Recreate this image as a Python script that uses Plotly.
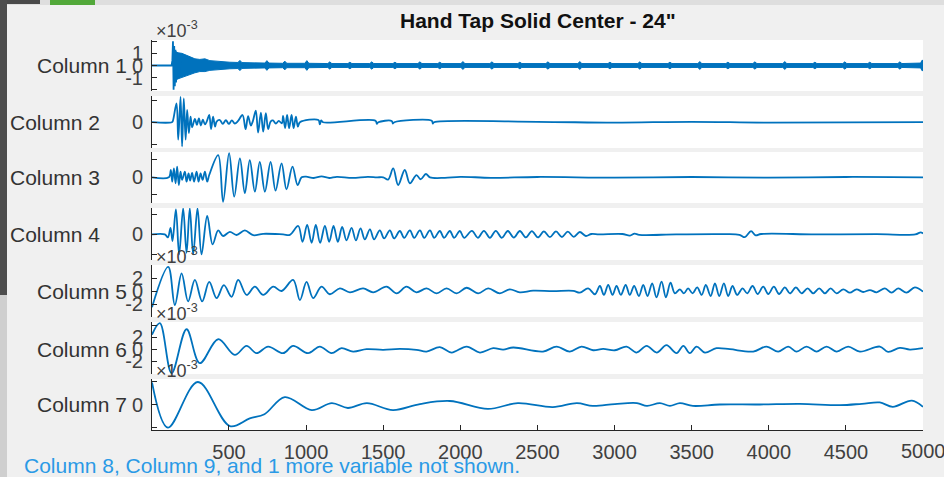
import plotly.graph_objects as go

# ---------------- data (row index vs. value) ----------------
x_tick_vals = [500, 1000, 1500, 2000, 2500, 3000, 3500, 4000, 4500, 5000]
x_tick_text = ["500", "1000", "1500", "2000", "2500", "3000", "3500", "4000", "4500", "5000"]
column_names = ["Column 1", "Column 2", "Column 3", "Column 4", "Column 5", "Column 6", "Column 7"]

# Column 1 (x10^-3): initial impact spike + dense noise band (upper/lower envelope)
col1_x = [1, 128, 133, 137, 141, 145, 149, 153, 157, 161, 166, 171, 177, 183, 190, 5000]
col1_y = [0, 0, 0.4, 2.0, -2.0, 1.6, -1.7, 1.3, -1.4, 1.1, -1.1, 0.9, -0.9, 0.6, 0, 0]
col1_band_x = [149, 169, 195, 220, 246, 279, 311, 344, 376, 441, 506, 558, 571, 584, 668, 733, 746, 759,
               849, 862, 875, 992, 1005, 1018, 1141, 1154, 1167, 1271, 1284, 1297, 1413, 1426, 1439,
               1563, 1576, 1589, 1725, 1738, 1751, 1854, 1867, 1880, 2004, 2017, 2030, 2192, 2205, 2218,
               2373, 2386, 2399, 2555, 2568, 2581, 2762, 2775, 2788, 2957, 2970, 2983, 3151, 3164, 3177,
               3346, 3359, 3372, 3540, 3553, 3566, 3722, 3735, 3748, 3897, 3910, 3923, 4091, 4104, 4117,
               4286, 4299, 4312, 4480, 4493, 4506, 4642, 4655, 4668, 4837, 4850, 4863, 4985, 4993, 5000]
col1_band_hi = [1.2, 1.05, 1.0, 0.85, 0.7, 0.55, 0.5, 0.55, 0.4, 0.32, 0.27, 0.25, 0.42, 0.24, 0.22, 0.2, 0.4, 0.2,
                0.18, 0.36, 0.18, 0.18, 0.4, 0.18, 0.16, 0.3, 0.16, 0.16, 0.27, 0.16, 0.16, 0.3, 0.16,
                0.16, 0.27, 0.16, 0.16, 0.3, 0.16, 0.16, 0.27, 0.16, 0.16, 0.32, 0.16, 0.16, 0.3, 0.16,
                0.16, 0.27, 0.16, 0.16, 0.3, 0.16, 0.16, 0.32, 0.16, 0.16, 0.27, 0.16, 0.16, 0.3, 0.16,
                0.16, 0.27, 0.16, 0.16, 0.32, 0.16, 0.16, 0.27, 0.16, 0.16, 0.3, 0.16, 0.16, 0.32, 0.16,
                0.16, 0.27, 0.16, 0.16, 0.3, 0.16, 0.16, 0.27, 0.16, 0.16, 0.3, 0.16, 0.2, 0.42, 0.42]
col1_band_lo = [-1.3, -1.1, -1.0, -0.9, -0.75, -0.6, -0.5, -0.5, -0.4, -0.32, -0.27, -0.25, -0.42, -0.24, -0.22, -0.2, -0.4, -0.2,
                -0.18, -0.36, -0.18, -0.18, -0.4, -0.18, -0.16, -0.3, -0.16, -0.16, -0.27, -0.16, -0.16, -0.3, -0.16,
                -0.16, -0.27, -0.16, -0.16, -0.3, -0.16, -0.16, -0.27, -0.16, -0.16, -0.32, -0.16, -0.16, -0.3, -0.16,
                -0.16, -0.27, -0.16, -0.16, -0.3, -0.16, -0.16, -0.32, -0.16, -0.16, -0.27, -0.16, -0.16, -0.3, -0.16,
                -0.16, -0.27, -0.16, -0.16, -0.32, -0.16, -0.16, -0.27, -0.16, -0.16, -0.3, -0.16, -0.16, -0.32, -0.16,
                -0.16, -0.27, -0.16, -0.16, -0.3, -0.16, -0.16, -0.27, -0.16, -0.16, -0.3, -0.16, -0.2, -0.42, -0.42]

col2_x = [1, 130, 136, 160, 171, 186, 196, 207, 219, 229, 240, 251, 261, 279, 292, 305, 318, 331, 344, 357,
          372, 384, 397, 410, 420, 441, 460, 480, 499, 519, 538, 558, 588, 608, 624, 642, 655, 674, 689, 707,
          722, 739, 754, 770, 785, 804, 823, 843, 851, 864, 877, 890, 906, 919, 934, 947, 960,
          1080, 1089, 1098, 1110, 1450, 1459, 1468, 1555, 1563, 1572, 1815, 1822, 1830,
          2500, 3000, 3500, 4000, 5000]
col2_y = [0, 0, 0.05, 0.86, -0.80, 1.16, -1.11, 1.09, -0.80, 0.56, -0.5, 0.25, -0.23, 0.15, -0.12, 0.18, -0.15, 0.12, -0.1, 0.05,
          0.33, -0.32, 0.25, -0.2, 0.03, 0.1, -0.08, 0.1, -0.08, 0.08, -0.06, 0.05, 0.33, -0.32, 0.28, -0.15, 0.05, 0.53, -0.47, 0.44,
          -0.43, 0.41, -0.32, 0.03, 0.08, -0.06, 0.06, -0.05, 0.29, -0.27, 0.33, -0.27, 0.33, -0.27, 0.25, -0.2, 0,
          0.1, -0.1, 0.08, 0, 0.07, -0.07, 0, 0.06, -0.06, 0, 0.07, -0.06, 0,
          0.02, -0.02, 0.02, -0.02, 0]

col3_x = [1, 110, 123, 132, 143, 154, 164, 175, 186, 196, 214, 225, 238, 248, 261, 274, 290, 303, 316, 329, 344, 359, 372,
          430, 462, 501, 534, 571, 603, 635, 668, 700, 733, 770, 802, 841, 873, 912, 945, 971,
          1000, 1050, 1100, 1150, 1200, 1300, 1400, 1459, 1500, 1532, 1565, 1597, 1640, 1673, 1716, 1742, 1777, 1803,
          1900, 2000, 2200, 2500, 3000, 3500, 4000, 4500, 5000]
col3_y = [0, 0, 0.42, -0.25, 0.51, -0.34, 0.61, -0.44, 0.32, -0.15, 0.32, -0.25, 0.23, -0.19, 0.26, -0.25, 0.32, -0.25, 0.23, -0.15, 0.32, -0.25, 0.13,
          1.27, -1.4, 1.38, -1.11, 1.09, -0.91, 0.99, -0.82, 0.89, -0.82, 0.89, -0.76, 0.80, -0.69, 0.61, -0.44, 0,
          0.04, -0.04, 0.05, -0.04, 0.03, -0.03, 0.03, 0, 0, -0.13, 0.51, -0.44, 0.42, -0.34, 0.13, -0.11, 0.19, 0,
          -0.03, 0.03, -0.03, 0.02, -0.02, 0.02, -0.02, 0.02, 0]

col4_x = [1, 84, 104, 121, 134, 156, 177, 203, 225, 246, 268, 296, 322, 359, 394, 430, 462, 506, 549, 603, 657, 722, 851, 895,
          949, 977, 1007, 1036, 1063, 1091, 1122, 1150, 1178, 1206, 1234, 1262, 1295, 1323, 1353, 1381, 1414, 1441,
          1478, 1506, 1543, 1571, 1608, 1636, 1673, 1701, 1738, 1766, 1803, 1831, 1867, 1895, 1932, 1960, 1997, 2025,
          2075, 2114, 2153, 2192, 2230, 2269, 2308, 2347, 2386, 2425, 2464, 2503, 2542, 2581, 2620, 2659, 2697, 2736,
          2775, 2814, 2850, 2900, 3050, 3100, 3130, 3160, 3400, 3700, 3810, 3845, 3885, 3915, 3950, 4300, 4700, 4950,
          4985, 5000]
col4_y = [0, 0, -0.15, 0.33, -0.33, 1.25, -1.0, 1.3, -0.92, 1.3, -1.0, 1.3, -1.0, 0.92, -0.5, 0.2, -0.08, 0.13, -0.03, 0.2, -0.04, 0.03, 0, -0.02,
          0.42, -0.37, 0.47, -0.42, 0.47, -0.42, 0.42, -0.37, 0.42, -0.37, 0.37, -0.3, 0.33, -0.3, 0.3, -0.25, 0.25, -0.25,
          0.2, -0.2, 0.2, -0.2, 0.17, -0.17, 0.2, -0.17, 0.2, -0.17, 0.2, -0.17, 0.17, -0.17, 0.17, -0.17, 0.17, -0.17,
          0.18, -0.17, 0.18, -0.17, 0.18, -0.17, 0.17, -0.16, 0.17, -0.15, 0.16, -0.15, 0.15, -0.14, 0.15, -0.13, 0.14, -0.12,
          0.12, -0.08, 0.02, 0, 0.02, -0.06, 0.04, -0.02, 0, 0.01, -0.02, -0.14, 0.16, -0.05, 0.02, 0, 0.01, 0,
          0.1, 0.05]

col5_x = [1, 106, 149, 193, 235, 279, 326, 372, 420, 467, 517, 560, 614, 668, 722, 787, 841, 916, 960, 1003, 1046, 1100,
          1154, 1219, 1284, 1370, 1435, 1522, 1587, 1651, 1716, 1781, 1846, 1911, 1976, 2041, 2116, 2181, 2256, 2321,
          2386, 2472, 2600, 2732, 2775, 2829, 2873, 2905, 2931, 2959, 2987, 3013, 3041, 3072, 3099, 3127, 3158, 3186,
          3214, 3244, 3272, 3305, 3333, 3363, 3391, 3424, 3450, 3477, 3506, 3536, 3565, 3592, 3623, 3651, 3679, 3709,
          3737, 3765, 3795, 3830, 3860, 3895, 3928, 3964, 3997, 4033, 4067, 4104, 4137, 4176, 4213, 4252, 4288, 4327,
          4364, 4401, 4440, 4483, 4526, 4569, 4612, 4656, 4699, 4753, 4796, 4839, 4893, 4947, 5000]
col5_y = [-2.5, 3.7, -2.15, 2.7, -1.6, 1.7, -1.6, 1.4, -1.1, 0.9, -0.9, 1.7, -0.6, 0.67, -0.6, 0.67, 0, 1.7, -1.4, 1.4, -1.1, 0.67,
          -0.5, 0.4, -0.2, 0.4, -0.2, 0.67, -0.36, 0.67, -0.2, 0.4, -0.36, 0.4, -0.36, 0.5, -0.36, 0.4, -0.36, 0.26,
          -0.2, 0.05, -0.02, 0.02, -0.26, 0.4, -0.5, 0.77, -0.6, 0.92, -0.6, 0.77, -0.6, 0.92, -0.6, 0.77, -0.77, 0.92,
          -0.77, 1.18, -0.97, 1.43, -0.97, 1.28, -0.36, 0.26, -0.36, 0.4, -0.36, 0.56, -0.6, 0.92, -0.77, 1.18, -0.77, 1.18,
          -0.77, 0.77, -0.6, 0.4, -0.36, 0.77, -0.46, 0.67, -0.46, 0.67, -0.46, 0.56, -0.36, 0.56, -0.36, 0.4, -0.36, 0.4,
          -0.36, 0.4, -0.36, 0.26, -0.26, 0.26, -0.15, 0.15, -0.2, 0.4, -0.26, 0.4, -0.26, 0.56, -0.1]

col6_x = [1, 52, 128, 225, 311, 430, 538, 614, 679, 754, 851, 916, 1013, 1089, 1165, 1230, 1305, 1392, 1500, 1608, 1716,
          1781, 1867, 1943, 2041, 2127, 2213, 2278, 2343, 2536, 2624, 2710, 2786, 2861, 2926, 3002, 3078, 3143, 3208,
          3273, 3337, 3402, 3446, 3488, 3532, 3586, 3661, 3748, 3899, 3986, 4061, 4126, 4180, 4245, 4310, 4375, 4440,
          4515, 4591, 4720, 4774, 4850, 4915, 5000]
col6_y = [2.4, 4.3, -3.97, 3.3, -2.3, 1.65, -0.94, 0.55, -0.66, 0.44, -0.66, 0.55, -0.66, 0.44, -0.66, 0.17, -0.39, 0, -0.1, 0.05, -0.1,
          -0.39, 0.33, -0.55, 0.44, -0.55, 0.17, -0.06, 0.28, -0.39, 0.44, -0.39, 0.44, -0.17, 0.05, -0.17, 0.44, -0.55, 0.55,
          -0.55, 0.66, -0.66, 0.55, -0.66, 0.44, -0.55, 0.17, 0, -0.39, 0.44, -0.39, 0.44, -0.39, 0.44, -0.39, 0.44, -0.39,
          0.44, -0.39, 0.44, -0.44, 0.22, -0.06, 0.17]

col7_x = [1, 104, 298, 506, 635, 730, 862, 1037, 1167, 1271, 1394, 1563, 1738, 1932, 2179, 2373, 2600, 2756, 2859, 3002,
          3145, 3210, 3294, 3359, 3424, 3508, 3683, 3942, 4202, 4461, 4604, 4720, 4804, 4928, 5000]
col7_y = [0.95, -1.0, 0.97, -0.93, -0.6, -0.42, 0.32, -0.24, 0.06, -0.15, 0.06, -0.24, 0.02, 0.15, -0.19, 0.06, -0.11, 0.06, -0.06, 0.02,
          0.06, -0.06, 0.06, -0.06, 0.06, -0.06, 0.0, 0.0, 0.03, -0.03, 0.03, 0.09, -0.1, 0.17, -0.1]

# ---------------- layout geometry / styles ----------------
W, H = 944, 477
X_LEFT, X_RIGHT = 152, 923
panels_px = [(40, 91), (96, 148), (152, 203), (208, 260), (265, 317), (322, 374), (379, 430)]
y_ranges = [[-2.1, 2.1], [-1.18, 1.2], [-1.47, 1.45], [-1.28, 1.32], [-4.0, 4.0], [-4.1, 4.5], [-1.1, 1.1]]
y_tickvals = [[-2, -1, 0, 1, 2], [-1, 0, 1], [-1, 0, 1], [-1, 0, 1], [-2, 0, 2], [-4, -2, 0, 2, 4], [-1, 0, 1]]
y_ticktext = [["", "-1", "0", "1", ""], ["", "0", ""], ["", "0", ""], ["", "0", ""],
              ["-2", "0", "2"], ["", "-2", "0", "2", ""], ["", "0", ""]]
label_right_px = [129, 102, 102, 102, 129, 129, 129]
has_exponent = [True, False, False, False, True, True, True]
line_shapes = ["linear", "spline", "spline", "spline", "spline", "spline", "spline"]

LINE = "#0072BD"
AXC = "#262626"
TICKC = "#404040"
FONT = "Liberation Sans, Arial, sans-serif"

def px_x(p):
    return p / W

def px_y(p):
    return 1 - p / H

series = [(col1_x, col1_y), (col2_x, col2_y), (col3_x, col3_y), (col4_x, col4_y),
          (col5_x, col5_y), (col6_x, col6_y), (col7_x, col7_y)]

fig = go.Figure()

# column 1 noise band
band_x = col1_band_x + col1_band_x[::-1]
band_y = col1_band_hi + col1_band_lo[::-1]
fig.add_trace(go.Scatter(x=band_x, y=band_y, fill="toself", fillcolor=LINE, mode="lines",
                         line=dict(color=LINE, width=1), xaxis="x", yaxis="y", showlegend=False,
                         hoverinfo="skip"))

for i, (xs, ys) in enumerate(series):
    xa = "x" if i == 0 else f"x{i+1}"
    ya = "y" if i == 0 else f"y{i+1}"
    ln = dict(color=LINE, width=1.8, shape=line_shapes[i])
    if line_shapes[i] == "spline":
        ln["smoothing"] = 1.0
    fig.add_trace(go.Scatter(x=xs, y=ys, mode="lines", xaxis=xa, yaxis=ya, line=ln, showlegend=False))

layout = dict(
    width=W, height=H,
    margin=dict(l=0, r=0, t=0, b=0),
    paper_bgcolor="#f0f0f0", plot_bgcolor="#ffffff",
    font=dict(family=FONT, color=AXC, size=20),
    showlegend=False,
)

annotations = []
for i in range(7):
    t, b = panels_px[i]
    n = "" if i == 0 else str(i + 1)
    last = (i == 6)
    layout[f"xaxis{n}"] = dict(
        domain=[px_x(X_LEFT), px_x(X_RIGHT)], range=[1, 5000], anchor=f"y{n}",
        showgrid=False, zeroline=False, showline=last, linecolor=AXC, linewidth=1,
        ticks="inside" if last else "", ticklen=5, tickcolor=AXC,
        tickvals=x_tick_vals, ticktext=x_tick_text[:-1] + [""], showticklabels=last,
        tickfont=dict(size=20, color=TICKC), ticklabelstandoff=4,
    )
    layout[f"yaxis{n}"] = dict(
        domain=[px_y(b), px_y(t)], range=y_ranges[i], anchor=f"x{n}",
        showgrid=False, zeroline=False, showline=True, linecolor=AXC, linewidth=1,
        ticks="inside", ticklen=5, tickcolor=AXC,
        tickvals=y_tickvals[i], ticktext=y_ticktext[i],
        tickfont=dict(size=20, color=TICKC), ticklabelstandoff=4,
    )
    r0, r1 = y_ranges[i]
    zero_px = b - (0 - r0) / (r1 - r0) * (b - t)
    annotations.append(dict(text=column_names[i], xref="paper", yref="paper",
                            x=px_x(label_right_px[i]), y=px_y(zero_px), xanchor="right", yanchor="middle",
                            showarrow=False, font=dict(size=21, color="#333333", family=FONT)))
    if has_exponent[i]:
        annotations.append(dict(text="×10<sup>-3</sup>", xref="paper", yref="paper",
                                x=px_x(154), y=px_y(t - 10), xanchor="left", yanchor="middle",
                                showarrow=False, font=dict(size=18, color=TICKC, family=FONT)))

# last x tick label (would be clipped by the figure edge as a regular tick label)
annotations.append(dict(text=x_tick_text[-1], xref="x7", yref="paper", x=x_tick_vals[-1], y=px_y(451),
                        xanchor="center", yanchor="middle", showarrow=False,
                        font=dict(size=20, color=TICKC, family=FONT)))
annotations.append(dict(text="<b>Hand Tap Solid Center - 24\"</b>", xref="paper", yref="paper",
                        x=px_x((X_LEFT + X_RIGHT) / 2), y=px_y(21), xanchor="center", yanchor="middle",
                        showarrow=False, font=dict(size=21, color="#111111", family=FONT)))
annotations.append(dict(text="Column 8, Column 9, and 1 more variable not shown.", xref="paper", yref="paper",
                        x=px_x(22), y=px_y(465), xanchor="left", yanchor="middle",
                        showarrow=False, font=dict(size=21, color="#2a9ae6", family=FONT)))
layout["annotations"] = annotations

# window chrome decorations
shapes = [
    dict(type="rect", xref="paper", yref="paper", x0=0, x1=1, y0=px_y(5), y1=1, fillcolor="#dedede", line_width=0, layer="below"),
    dict(type="rect", xref="paper", yref="paper", x0=0, x1=px_x(40), y0=px_y(4), y1=1, fillcolor="#4a4a4a", line_width=0),
    dict(type="rect", xref="paper", yref="paper", x0=px_x(50), x1=px_x(95), y0=px_y(5), y1=1, fillcolor="#52a83a", line_width=0),
    dict(type="rect", xref="paper", yref="paper", x0=0, x1=px_x(7), y0=px_y(295), y1=1, fillcolor="#4d4d4d", line_width=0),
    dict(type="rect", xref="paper", yref="paper", x0=0, x1=px_x(7), y0=0, y1=px_y(295), fillcolor="#cfcfcf", line_width=0),
]
layout["shapes"] = shapes

fig.update_layout(**layout)
fig.write_html("out.html", config={"displayModeBar": False})
